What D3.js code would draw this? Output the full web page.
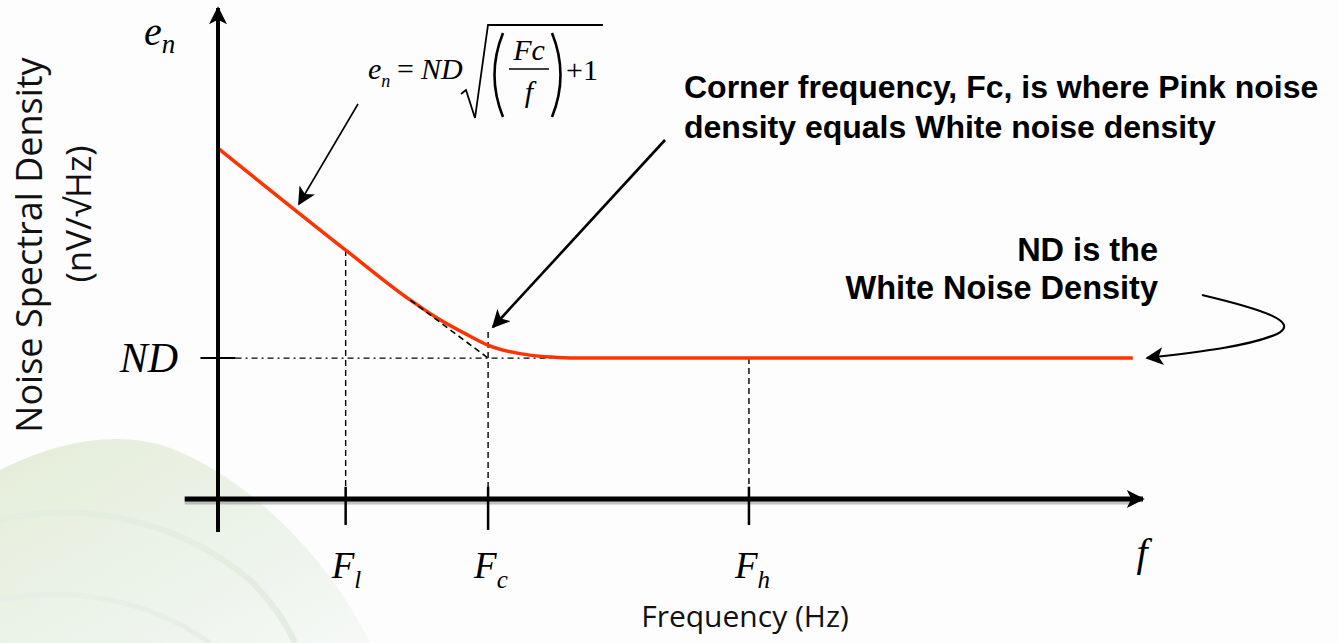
<!DOCTYPE html>
<html>
<head>
<meta charset="utf-8">
<script src="https://cdn.jsdelivr.net/npm/d3@7"></script>
<style>
  html, body { margin: 0; padding: 0; background: #fdfdfd; }
  svg { display: block; }
</style>
</head>
<body>
<div id="chart"></div>
<script>
// values (arbitrary units, x: 0..100, y: 0..100)
var markerNames = ["l", "c", "h"];
var markerFreqs = [13.8, 29.2, 57.4];
var markerTops = [50.7, 34.0, 28.7];
var nd = 28.7;

var curveFreq = [0.1, 13.8, 20.8, 24.0, 27.2, 29.1, 33.7, 36.0, 38.6, 98.9];
var curveDensity = [71.3, 50.7, 40.5, 36.5, 33.2, 31.4, 29.3, 28.9, 28.7, 28.7];

var asymFreq = [20.8, 29.2];
var asymDensity = [40.5, 28.7];

var width = 1339;
var height = 643;

var svg = d3.select("#chart")
    .append("svg")
    .attr("width", width)
    .attr("height", height);

var defs = svg.append("defs");

var grad = defs.append("linearGradient")
    .attr("id", "swoosh")
    .attr("x1", 0).attr("y1", 0).attr("x2", 1).attr("y2", 1);
grad.append("stop").attr("offset", "0%").attr("stop-color", "#dfe9cf");
grad.append("stop").attr("offset", "60%").attr("stop-color", "#e8f1e6");
grad.append("stop").attr("offset", "100%").attr("stop-color", "#f4f8f4");

defs.append("marker")
    .attr("id", "bighead")
    .attr("viewBox", "0 0 10 10")
    .attr("refX", 9).attr("refY", 5)
    .attr("markerWidth", 22).attr("markerHeight", 18)
    .attr("markerUnits", "userSpaceOnUse")
    .attr("orient", "auto")
    .append("path")
    .attr("d", "M0,0 L10,5 L0,10 L2.5,5 Z")
    .attr("fill", "#000");

// faint background swoosh bottom left
var bg = svg.append("g");
bg.append("path")
    .attr("d", "M0,470 C60,440 120,430 170,448 C250,478 330,560 370,643 L0,643 Z")
    .attr("fill", "url(#swoosh)")
    .attr("opacity", 0.8);
bg.append("path")
    .attr("d", "M0,520 C80,500 180,520 250,580 C270,600 285,620 295,643")
    .attr("fill", "none").attr("stroke", "#e3ede0").attr("stroke-width", 6);
bg.append("path")
    .attr("d", "M0,600 C70,585 150,600 210,643")
    .attr("fill", "none").attr("stroke", "#e6efe6").attr("stroke-width", 5);

var xScale = d3.scaleLinear()
    .domain([0, 100])
    .range([218, 1143]);

var yScale = d3.scaleLinear()
    .domain([0, 100])
    .range([499, 8]);

var g = svg.append("g");

// dashed guide lines
var dash = "6,4";
g.selectAll(".vguide")
    .data(markerFreqs)
    .enter().append("line")
    .attr("x1", function(d) { return xScale(d); })
    .attr("x2", function(d) { return xScale(d); })
    .attr("y1", function(d, i) { return yScale(markerTops[i]); })
    .attr("y2", yScale(0))
    .attr("stroke", "#000")
    .attr("stroke-width", 1.4)
    .attr("stroke-dasharray", dash);

g.append("line")
    .attr("x1", xScale(1.9)).attr("x2", xScale(38.5))
    .attr("y1", yScale(nd)).attr("y2", yScale(nd))
    .attr("stroke", "#000")
    .attr("stroke-width", 1.4)
    .attr("stroke-dasharray", "6,4,2,4");

// the noise density curve
var line = d3.line()
    .x(function(d) { return xScale(d[0]); })
    .y(function(d) { return yScale(d[1]); })
    .curve(d3.curveMonotoneX);

g.append("path")
    .datum(d3.zip(curveFreq, curveDensity))
    .attr("d", line)
    .attr("fill", "none")
    .attr("stroke", "#ff3300")
    .attr("stroke-width", 3.5);

g.append("path")
    .datum(d3.zip(asymFreq, asymDensity))
    .attr("d", d3.line().x(function(d) { return xScale(d[0]); }).y(function(d) { return yScale(d[1]); }))
    .attr("fill", "none")
    .attr("stroke", "#000")
    .attr("stroke-width", 1.6)
    .attr("stroke-dasharray", dash);

// axes
var xAxisG = svg.append("g");
xAxisG.append("line")
    .attr("x1", xScale(-3.6)).attr("x2", xScale(99))
    .attr("y1", yScale(0) + 3).attr("y2", yScale(0) + 3)
    .attr("stroke", "#9a9a9a").attr("stroke-width", 5).attr("opacity", 0.6);
xAxisG.append("line")
    .attr("x1", xScale(-3.6)).attr("x2", xScale(100))
    .attr("y1", yScale(0)).attr("y2", yScale(0))
    .attr("stroke", "#000").attr("stroke-width", 5)
    .attr("marker-end", "url(#bighead)");

var yAxisG = svg.append("g");
yAxisG.append("line")
    .attr("x1", xScale(0)).attr("x2", xScale(0))
    .attr("y1", yScale(-6.7)).attr("y2", yScale(100))
    .attr("stroke", "#000").attr("stroke-width", 4)
    .attr("marker-end", "url(#bighead)");

// ticks
svg.selectAll(".xtick")
    .data(markerFreqs)
    .enter().append("line")
    .attr("x1", function(d) { return xScale(d); })
    .attr("x2", function(d) { return xScale(d); })
    .attr("y1", yScale(2.5))
    .attr("y2", function(d, i) { return i == 1 ? yScale(-6.3) : yScale(-5.3); })
    .attr("stroke", "#000").attr("stroke-width", 2.5);

svg.append("line")
    .attr("x1", xScale(-1.9)).attr("x2", xScale(1.9))
    .attr("y1", yScale(nd)).attr("y2", yScale(nd))
    .attr("stroke", "#000").attr("stroke-width", 2);

// italic math labels
var serif = "'Liberation Serif', 'Times New Roman', serif";

var tl = svg.selectAll(".xlab")
    .data(markerNames)
    .enter().append("text")
    .attr("x", function(d, i) { return xScale(markerFreqs[i]) - 14; })
    .attr("y", 578)
    .attr("font-family", serif)
    .attr("font-style", "italic")
    .attr("font-size", 37);
tl.append("tspan").text("F");
tl.append("tspan")
    .attr("font-size", 25)
    .attr("dy", 10)
    .text(function(d) { return d; });

svg.append("text")
    .attr("x", xScale(99.3)).attr("y", 566)
    .attr("font-family", serif).attr("font-style", "italic")
    .attr("font-size", 40)
    .text("f");

var en = svg.append("text")
    .attr("x", 144).attr("y", 45)
    .attr("font-family", serif).attr("font-style", "italic")
    .attr("font-size", 40);
en.append("tspan").text("e");
en.append("tspan").attr("font-size", 27).attr("dy", 8).text("n");

svg.append("text")
    .attr("x", 178).attr("y", yScale(nd) + 14)
    .attr("text-anchor", "end")
    .attr("font-family", serif).attr("font-style", "italic")
    .attr("font-size", 42)
    .text("ND");

// axis titles
var sans = "'Open Sans', 'Noto Sans', sans-serif";
svg.append("text")
    .attr("transform", "translate(42,245) rotate(-90)")
    .attr("text-anchor", "middle")
    .attr("font-family", sans)
    .attr("font-size", 36)
    .attr("fill", "#111")
    .text("Noise Spectral Density");
svg.append("text")
    .attr("transform", "translate(91,214) rotate(-90)")
    .attr("text-anchor", "middle")
    .attr("font-family", sans)
    .attr("font-size", 35)
    .attr("fill", "#111")
    .text("(nV/\u221AHz)");

svg.append("text")
    .attr("x", 745).attr("y", 627)
    .attr("text-anchor", "middle")
    .attr("font-family", sans)
    .attr("font-size", 30)
    .attr("fill", "#111")
    .text("Frequency (Hz)");

// formula
var fg = svg.append("g")
    .attr("font-family", serif)
    .attr("font-size", 30);
var fe = fg.append("text").attr("x", 368).attr("y", 79).attr("font-style", "italic");
fe.append("tspan").text("e");
fe.append("tspan").attr("font-size", 18).attr("dy", 8).text("n");
fg.append("text").attr("x", 397).attr("y", 79).text("=");
fg.append("text").attr("x", 421).attr("y", 79).attr("font-style", "italic").text("ND");
fg.append("path")
    .attr("d", "M461,94 L466,90 L475,118 L488,25 L603,25")
    .attr("fill", "none").attr("stroke", "#000").attr("stroke-width", 1.8);
fg.append("path")
    .attr("d", "M503,33 Q486,75 503,117")
    .attr("fill", "none").attr("stroke", "#000").attr("stroke-width", 2.6);
fg.append("path")
    .attr("d", "M552,33 Q569,75 552,117")
    .attr("fill", "none").attr("stroke", "#000").attr("stroke-width", 2.6);
fg.append("text").attr("x", 529).attr("y", 60).attr("text-anchor", "middle").attr("font-style", "italic").text("Fc");
fg.append("line").attr("x1", 509).attr("x2", 549).attr("y1", 69).attr("y2", 69)
    .attr("stroke", "#000").attr("stroke-width", 1.4);
fg.append("text").attr("x", 529).attr("y", 102).attr("text-anchor", "middle").attr("font-style", "italic").text("f");
fg.append("text").attr("x", 566).attr("y", 80).text("+1");

// annotations
var bold = "'Liberation Sans', Arial, sans-serif";
function note(x, y, s, size, anchor) {
    svg.append("text")
        .attr("x", x).attr("y", y)
        .attr("text-anchor", anchor || "start")
        .attr("font-family", bold)
        .attr("font-weight", "bold")
        .attr("font-size", size)
        .attr("fill", "#000")
        .text(s);
}
note(684, 98, "Corner frequency, Fc, is where Pink noise", 32);
note(684, 138, "density equals White noise density", 32);
note(1158, 261, "ND is the", 32.5, "end");
note(1158, 299, "White Noise Density", 32.5, "end");

svg.append("line")
    .attr("x1", 358).attr("y1", 104)
    .attr("x2", 299).attr("y2", 204)
    .attr("stroke", "#000").attr("stroke-width", 1.6)
    .attr("marker-end", "url(#bighead)");

svg.append("line")
    .attr("x1", 665).attr("y1", 140)
    .attr("x2", 493).attr("y2", 327)
    .attr("stroke", "#000").attr("stroke-width", 2.6)
    .attr("marker-end", "url(#bighead)");

svg.append("path")
    .attr("d", "M1202,295 C1265,310 1300,322 1277,334 C1250,346 1200,352 1147,358")
    .attr("fill", "none")
    .attr("stroke", "#000").attr("stroke-width", 2.2)
    .attr("marker-end", "url(#bighead)");
</script>
</body>
</html>
